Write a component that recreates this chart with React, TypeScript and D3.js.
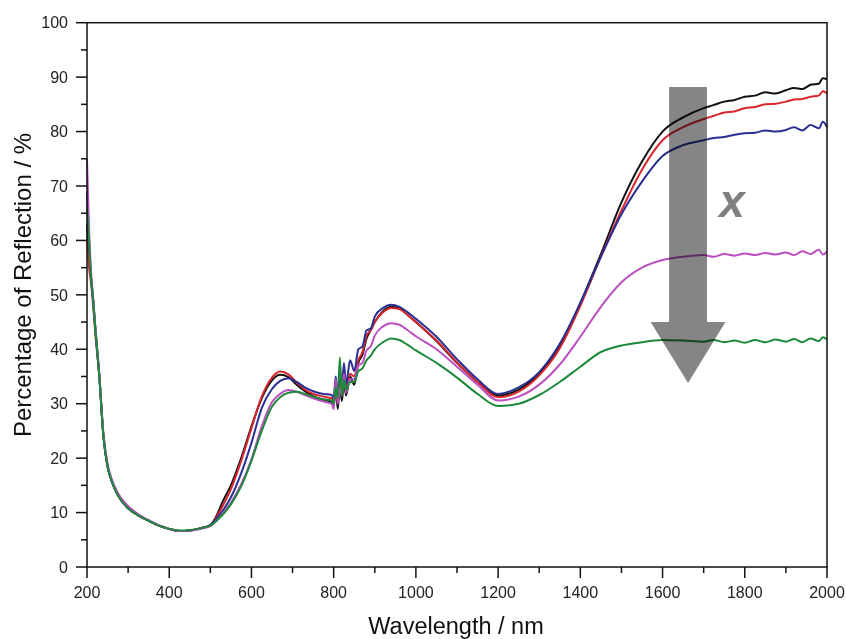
import React from "react";
import * as d3 from "d3";

const WAVELENGTHS = [
  200, 205, 210, 215, 220, 230, 240, 250, 260, 275,
  300, 325, 350, 375, 400, 425, 450, 475, 500, 515,
  530, 550, 575, 600, 625, 650, 670, 690, 710, 730,
  750, 775, 795, 800, 805, 810, 815, 820, 825, 830,
  840, 850, 860, 870, 880, 890, 900, 920, 940, 960,
  980, 1000, 1050, 1100, 1150, 1200, 1250, 1300, 1350, 1400,
  1450, 1500, 1550, 1600, 1650, 1700, 1725, 1750, 1775, 1800,
  1825, 1850, 1875, 1900, 1920, 1940, 1960, 1980, 1990, 2000,
];

const BLACK = [
  63, 57, 53, 49, 44, 35, 24, 18.5, 15.8, 13.2,
  10.8, 9.5, 8.5, 7.6, 7.0, 6.6, 6.7, 7.1, 7.7, 9.4,
  12.0, 15.0, 20.0, 25.8, 31.0, 34.3, 35.3, 34.9, 33.5, 32.3,
  31.4, 30.7, 30.3, 29.5, 33.0, 29.0, 33.5, 30.5, 34.0, 31.5,
  35.0, 33.5, 37.5, 39.0, 42.0, 43.5, 45.0, 47.0, 47.8, 47.5,
  46.3, 45.0, 41.5, 37.5, 34.0, 31.5, 32.6, 35.5, 40.5, 48.5,
  57.5, 67.0, 74.5, 80.0, 82.6, 84.3, 84.9, 85.5, 85.8, 86.4,
  86.6, 87.2, 87.0, 87.6, 88.0, 87.8, 88.6, 88.8, 89.8, 89.6,
];

const RED = [
  60, 55, 52, 48, 43, 35, 24, 18.5, 15.8, 13.2,
  10.8, 9.5, 8.5, 7.6, 7.0, 6.6, 6.7, 7.1, 7.7, 9.2,
  11.2, 14.3, 19.5, 25.5, 31.3, 34.8, 35.9, 35.4, 33.9, 32.6,
  31.8, 31.3, 31.0, 30.5, 33.5, 30.0, 34.0, 31.5, 35.0, 32.5,
  35.5, 35.0, 38.0, 39.5, 42.5, 43.5, 45.0, 46.8, 47.6, 47.4,
  46.3, 45.0, 41.6, 37.6, 34.0, 31.2, 32.2, 35.2, 40.2, 48.0,
  57.0, 65.5, 73.0, 78.4, 80.8, 82.3, 82.9, 83.5, 83.7, 84.3,
  84.5, 85.0, 85.1, 85.5, 85.9, 86.0, 86.4, 86.6, 87.4, 87.0,
];

const BLUE = [
  69, 60, 53, 49, 44, 35, 24, 18.5, 15.8, 13.2,
  10.8, 9.5, 8.5, 7.6, 7.0, 6.6, 6.7, 7.1, 7.7, 8.9,
  10.3, 12.8, 17.2, 22.8, 29.2, 32.7, 34.2, 34.7, 34.0, 33.0,
  32.3, 31.8, 31.6, 31.0, 35.0, 31.5, 36.0, 33.0, 37.5, 33.5,
  38.0, 36.0, 40.0, 40.5, 43.5, 43.8, 46.0, 47.6, 48.2, 47.8,
  46.8, 45.6, 42.3, 38.2, 34.5, 31.8, 33.0, 35.8, 41.0, 48.5,
  57.0, 64.8, 70.8, 75.5, 77.5, 78.4, 78.8, 79.0, 79.4, 79.7,
  79.8, 80.2, 80.0, 80.3, 80.8, 80.2, 81.2, 80.6, 81.8, 80.8,
];

const MAGENTA = [
  75, 62, 54, 49.5, 44.5, 35.5, 24.5, 19, 16.2, 13.6,
  11.2, 9.7, 8.6, 7.7, 7.0, 6.6, 6.7, 7.0, 7.5, 8.5,
  9.8, 11.8, 15.2, 19.8, 25.8, 30.3, 31.8, 32.5, 32.2, 31.6,
  31.0, 30.4, 30.0, 29.0, 34.5, 30.0, 33.0, 31.5, 35.5, 32.0,
  34.5, 34.5, 37.0, 37.5, 39.8, 40.5, 42.5, 44.2, 44.8, 44.5,
  43.5, 42.4, 40.0, 36.8, 33.5, 30.6, 31.3, 33.5, 37.2, 42.3,
  47.8, 52.3, 55.0, 56.4, 57.0, 57.3, 57.0, 57.5, 57.2, 57.6,
  57.3, 57.7, 57.4, 57.8, 57.3, 58.0, 57.5, 58.3, 57.4, 58.0,
];

const GREEN = [
  66, 60, 53, 49, 44, 35, 24, 18.5, 15.8, 13.2,
  10.8, 9.5, 8.5, 7.6, 7.0, 6.7, 6.8, 7.1, 7.6, 8.5,
  9.6, 11.5, 14.8, 19.5, 25.0, 29.5, 31.2, 32.0, 32.2, 31.8,
  31.3, 30.8, 30.6, 30.0, 33.0, 31.0, 38.5, 31.5, 34.5, 32.5,
  34.0, 34.0, 36.0, 36.5, 38.0, 38.8, 40.0, 41.3, 42.0, 41.7,
  40.8, 39.8, 37.5, 34.8, 31.8, 29.6, 30.0, 31.6, 34.0, 36.8,
  39.5, 40.7, 41.3, 41.7, 41.6, 41.4, 41.7, 41.3, 41.6, 41.2,
  41.7, 41.3, 41.8, 41.4, 41.9, 41.3, 42.0, 41.5, 42.2, 41.8,
];

const SERIES = [
  { name: "black", values: BLACK, color: "#111111" },
  { name: "red", values: RED, color: "#d8262c" },
  { name: "blue", values: BLUE, color: "#2a2f92" },
  { name: "magenta", values: MAGENTA, color: "#bb4fc2" },
  { name: "green", values: GREEN, color: "#1c8a3a" },
];

const X_TICKS = [200, 400, 600, 800, 1000, 1200, 1400, 1600, 1800, 2000];
const X_MINOR = [300, 500, 700, 900, 1100, 1300, 1500, 1700, 1900];
const Y_TICKS = [0, 10, 20, 30, 40, 50, 60, 70, 80, 90, 100];
const Y_MINOR = [5, 15, 25, 35, 45, 55, 65, 75, 85, 95];

// Arrow annotation (data coordinates)
const ARROW = { center: 1662, shaftHalf: 46, headHalf: 91, top: 88.2, headTop: 45, tip: 33.8 };

const W = 846;
const H = 639;
const FONT = "'Liberation Sans', Arial, Helvetica, sans-serif";

export default function App() {
  const x = d3.scaleLinear().domain([200, 2000]).range([87, 827]);
  const y = d3.scaleLinear().domain([0, 100]).range([567, 22.7]);
  const left = x(200);
  const right = x(2000);
  const top = y(100);
  const bottom = y(0);

  const line = d3
    .line<number>()
    .x((_, i) => x(WAVELENGTHS[i]))
    .y((v) => y(v))
    .curve(d3.curveMonotoneX);

  const arrowPts: [number, number][] = [
    [x(ARROW.center - ARROW.shaftHalf), y(ARROW.top)],
    [x(ARROW.center + ARROW.shaftHalf), y(ARROW.top)],
    [x(ARROW.center + ARROW.shaftHalf), y(ARROW.headTop)],
    [x(ARROW.center + ARROW.headHalf), y(ARROW.headTop)],
    [x(ARROW.center), y(ARROW.tip)],
    [x(ARROW.center - ARROW.headHalf), y(ARROW.headTop)],
    [x(ARROW.center - ARROW.shaftHalf), y(ARROW.headTop)],
  ];

  return (
    <svg
      width={W}
      height={H}
      style={{ position: "absolute", left: 0, top: 0, background: "#fff" }}
      fontFamily={FONT}
    >
      <rect x={0} y={0} width={W} height={H} fill="#fff" />
      {/* curves */}
      {SERIES.map((s) => (
        <path
          key={s.name}
          d={line(s.values) || ""}
          fill="none"
          stroke={s.color}
          strokeWidth={2}
          strokeLinejoin="round"
        />
      ))}
      {/* arrow */}
      <polygon
        points={arrowPts.map((p) => p.join(",")).join(" ")}
        fill="#858585"
        style={{ mixBlendMode: "multiply" }}
      />
      <text
        x={x(1769)}
        y={y(64.3)}
        textAnchor="middle"
        fontSize={46}
        fontWeight="bold"
        fontStyle="italic"
        fill="#808080"
      >
        x
      </text>
      {/* frame */}
      <rect
        x={left}
        y={top}
        width={right - left}
        height={bottom - top}
        fill="none"
        stroke="#111"
        strokeWidth={1.5}
      />
      {/* x ticks */}
      {X_TICKS.map((t) => (
        <g key={"xt" + t}>
          <line x1={x(t)} x2={x(t)} y1={bottom} y2={bottom + 11} stroke="#111" strokeWidth={1.5} />
          <text x={x(t)} y={bottom + 31} textAnchor="middle" fontSize={16} fill="#222">
            {t}
          </text>
        </g>
      ))}
      {X_MINOR.map((t) => (
        <line key={"xm" + t} x1={x(t)} x2={x(t)} y1={bottom} y2={bottom + 6} stroke="#111" strokeWidth={1.5} />
      ))}
      {/* y ticks */}
      {Y_TICKS.map((t) => (
        <g key={"yt" + t}>
          <line x1={left - 11} x2={left} y1={y(t)} y2={y(t)} stroke="#111" strokeWidth={1.5} />
          <text x={left - 19} y={y(t) + 5.7} textAnchor="end" fontSize={16} fill="#222">
            {t}
          </text>
        </g>
      ))}
      {Y_MINOR.map((t) => (
        <line key={"ym" + t} x1={left - 6} x2={left} y1={y(t)} y2={y(t)} stroke="#111" strokeWidth={1.5} />
      ))}
      {/* axis titles */}
      <text x={456} y={634} textAnchor="middle" fontSize={23.5} fill="#111">
        Wavelength / nm
      </text>
      <text
        transform={`translate(31, 285) rotate(-90)`}
        textAnchor="middle"
        fontSize={24}
        fill="#111"
      >
        Percentage of Reflection / %
      </text>
    </svg>
  );
}
